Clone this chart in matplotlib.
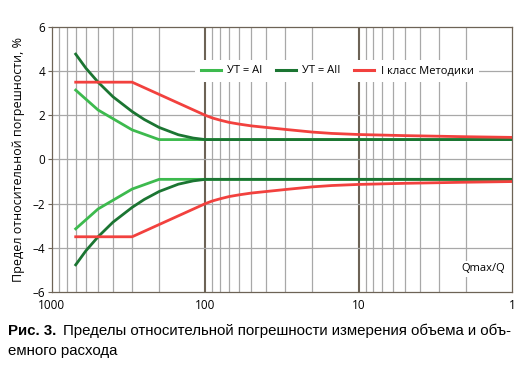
import matplotlib.pyplot as plt
import numpy as np
from matplotlib.lines import Line2D

# --- Data -------------------------------------------------------------------
q_ai = [700, 500, 300, 200, 100, 10, 1]
err_ai = [3.14, 2.24, 1.34, 0.9, 0.9, 0.9, 0.9]

q_aii = [700, 600, 500, 400, 300, 250, 200, 150, 120, 100, 10, 1]
err_aii = [4.77, 4.13, 3.5, 2.84, 2.17, 1.81, 1.45, 1.12, 0.97, 0.9, 0.9, 0.9]

q_cls = [700, 300, 100, 90, 80, 70, 60, 50, 40, 30, 20, 15, 10, 5, 2, 1]
err_cls = [3.5, 3.5, 2.0, 1.88, 1.78, 1.68, 1.6, 1.52, 1.45, 1.36, 1.24,
           1.18, 1.13, 1.08, 1.03, 1.0]

legend_labels = ["УТ = AI", "УТ = AII", "I класс Методики"]
y_ticks = [-6, -4, -2, 0, 2, 4, 6]
x_ticks = [1000, 100, 10, 1]

c_ai = "#3dba4e"
c_aii = "#1b7532"
c_cls = "#f2413e"

plt.rcParams['font.family'] = ['Open Sans', 'DejaVu Sans']

fig = plt.figure(figsize=(5.30, 3.77), dpi=100)
ax = fig.add_axes([0.098, 0.2255, 0.868, 0.703])

# grid: minor log lines, darker decade lines, horizontal every 2
minor = [m * 10 ** e for e in range(0, 3) for m in range(2, 10)]
for v in minor:
    ax.axvline(v, color="#a8a8a8", lw=0.9, zorder=0)
for v in [100, 10]:
    ax.axvline(v, color="#6d6356", lw=1.5, zorder=0)
for v in [-4, -2, 0, 2, 4]:
    ax.axhline(v, color="#a8a8a8", lw=0.9, zorder=0)

lw = 2.0
for q, e, c in [(q_ai, err_ai, c_ai), (q_aii, err_aii, c_aii), (q_cls, err_cls, c_cls)]:
    ax.plot(q, e, color=c, lw=lw, zorder=3)
    ax.plot(q, -np.array(e), color=c, lw=lw, zorder=3)

ax.set_xscale("log")
ax.set_xlim(1000, 1)
ax.set_ylim(-6, 6)
ax.set_xticks(x_ticks)
ax.set_xticklabels([str(v) for v in x_ticks])
ax.xaxis.set_minor_locator(plt.NullLocator())
ax.set_yticks(y_ticks)
ax.set_yticklabels([str(v) if v >= 0 else "\u2013" + str(-v) for v in y_ticks])
ax.tick_params(axis="y", length=3, width=0.8, color="#6d6356", labelsize=8.5, pad=2)
ax.tick_params(axis="x", length=0, labelsize=8.5, pad=5)
for s in ax.spines.values():
    s.set_color("#6d6356")
    s.set_linewidth(0.9)

ax.set_ylabel("Предел относительной погрешности, %", fontsize=9, labelpad=5)

handles = [Line2D([], [], color=c, lw=2.2) for c in (c_ai, c_aii, c_cls)]
leg = ax.legend(handles, legend_labels, ncol=3, loc="center",
                bbox_to_anchor=(0.62, 0.834), fontsize=8, frameon=True,
                handlelength=1.8, handletextpad=0.6, columnspacing=1.2,
                borderpad=0.5, fancybox=False)
leg.get_frame().set_facecolor("white")
leg.get_frame().set_edgecolor("none")
leg.get_frame().set_alpha(1)
leg.set_zorder(5)

ax.text(0.937, 0.087, "Qmax/Q", transform=ax.transAxes, fontsize=8,
        ha="center", va="center", zorder=5,
        bbox=dict(facecolor="white", edgecolor="none", pad=2))

cap_font = ['Liberation Sans', 'DejaVu Sans']
fig.text(8 / 530, 0.112, "Рис. 3.", fontsize=10.8, fontweight="bold",
         family=cap_font, va="baseline")
fig.text(63 / 530, 0.112,
         "Пределы относительной погрешности измерения объема и объ-",
         fontsize=10.8, family=cap_font, va="baseline")
fig.text(8 / 530, 0.058, "емного расхода", fontsize=10.8, family=cap_font,
         va="baseline")

fig.savefig("out.png", dpi=100)
